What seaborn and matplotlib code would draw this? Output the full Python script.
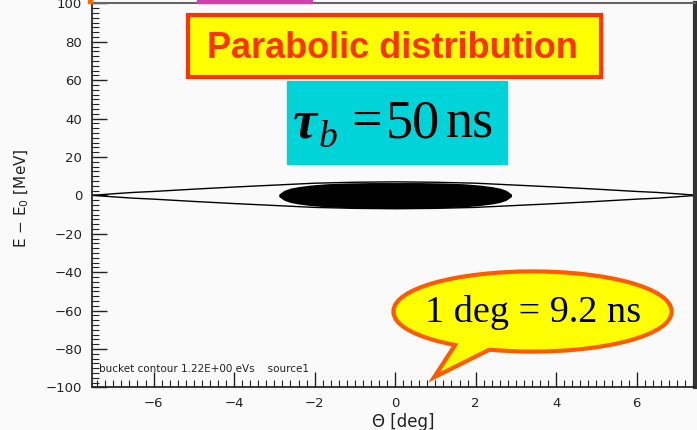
import matplotlib
matplotlib.use("Agg")
import matplotlib.pyplot as plt
import numpy as np
import pandas as pd
import seaborn as sns
from matplotlib.patches import Ellipse, Polygon, Rectangle
from matplotlib.ticker import MultipleLocator
from matplotlib.transforms import Affine2D

sns.set_theme(style="ticks")
plt.rcParams["font.family"] = ["DejaVu Sans"]

# separatrix (bucket contour), half height in MeV
theta_sep = [-7.5, -7.0, -6.5, -6.0, -5.0, -4.0, -3.0, -2.0, -1.0, 0.0,
             1.0, 2.0, 3.0, 4.0, 5.0, 6.0, 6.5, 7.0, 7.5]
de_sep = [0.0, 0.8, 1.5, 2.0, 3.2, 4.3, 5.3, 6.3, 6.8, 7.0,
          6.8, 6.3, 5.3, 4.3, 3.2, 2.0, 1.5, 0.8, 0.0]

# outline of the particle cloud (parabolic distribution)
theta_cloud = [-2.87, -2.75, -2.6, -2.4, -2.1, -1.7, -1.2, -0.6, 0.0,
               0.6, 1.2, 1.7, 2.1, 2.4, 2.6, 2.75, 2.87]
de_cloud = [0.4, 2.2, 3.3, 4.1, 4.9, 5.6, 6.0, 6.2, 6.2,
            6.2, 6.0, 5.6, 4.9, 4.1, 3.3, 2.2, 0.4]

W, H = 697, 430
bg = "#fafafa"
fig = plt.figure(figsize=(W / 100, H / 100), dpi=100, facecolor=bg)
ax = fig.add_axes([92 / W, (H - 387.3) / H, (695 - 92) / W, (387.3 - 3.3) / H])
ax.set_facecolor(bg)

n = len(theta_sep)
sep = pd.DataFrame({
    "theta": theta_sep + theta_sep,
    "dE": de_sep + [-v for v in de_sep],
    "half": ["upper"] * n + ["lower"] * n,
})
sns.lineplot(data=sep, x="theta", y="dE", units="half", estimator=None,
             color="black", linewidth=1, ax=ax)

hc = np.array(de_cloud)
ax.fill_between(theta_cloud, -hc, hc, color="black", linewidth=1.2, edgecolor="black")

ax.set_xlim(-7.53, 7.45)
ax.set_ylim(-100, 100)
ax.xaxis.set_major_locator(MultipleLocator(2))
ax.xaxis.set_minor_locator(MultipleLocator(0.2))
ax.yaxis.set_major_locator(MultipleLocator(20))
ax.yaxis.set_minor_locator(MultipleLocator(2.5))
ax.tick_params(which="both", direction="in", colors="#222222", labelsize=9.5,
               pad=7, top=False, right=False)
ax.tick_params(which="major", length=11, width=1)
ax.tick_params(which="minor", length=5, width=0.8)
ax.set_xlabel("")
ax.set_ylabel("")
ax.spines["left"].set_color("#222222")
ax.spines["bottom"].set_color("#222222")
ax.spines["top"].set_color("#666666")
ax.spines["top"].set_linewidth(1.5)
ax.spines["right"].set_color("#333333")
ax.spines["right"].set_linewidth(3)

ax.text(0.012, 0.04, "bucket contour 1.22E+00 eVs    source1", transform=ax.transAxes,
        fontsize=7.5, color="#222222", va="baseline")

fig.text(403 / W, 1 - 427 / H, "\u0398 [deg]", fontsize=12, color="#222222",
         ha="center", va="baseline")
fig.text(22 / W, 1 - 198 / H, "E \u2212 E$_0$ [MeV]", fontsize=11, color="#222222",
         rotation=90, ha="center", va="center")

# pixel coordinates with origin at top-left
px = Affine2D().scale(1, -1).translate(0, H)

fig.patches.append(Rectangle((197, 0), 115, 2.5, transform=px, color="#d23fae"))
fig.patches.append(Rectangle((88, 0), 4, 3, transform=px, color="#ff6a00"))

fig.patches.append(Rectangle((187.5, 14.5), 413, 62, transform=px,
                             facecolor="#ffff00", edgecolor="#ff3300", linewidth=3))
fig.text(392 / W, 1 - 58.3 / H, "Parabolic distribution", fontsize=26,
         fontweight="bold", family="Liberation Sans", color="#ff3300",
         ha="center", va="baseline")

fig.patches.append(Rectangle((287, 81), 220, 83, transform=px, color="#00d4d8"))
fig.text(293 / W, 1 - 137 / H, "\u03c4", fontsize=39, family="Liberation Serif",
         fontweight="bold", style="italic", color="black", va="baseline")
fig.text(319 / W, 1 - 147 / H, "b", fontsize=27, family="Liberation Serif",
         style="italic", color="black", va="baseline")
fig.text(351 / W, 1 - 137 / H, "=", fontsize=39, family="Liberation Serif",
         color="black", va="baseline")
fig.text(386 / W, 1 - 137 / H, "50", fontsize=39, family="Liberation Serif",
         color="black", va="baseline")
fig.text(446 / W, 1 - 137 / H, "ns", fontsize=39, family="Liberation Serif",
         color="black", va="baseline")

# speech bubble
orange = "#ff5a00"
tail = [(466, 332), (440, 372), (512, 336)]
fig.patches.append(Polygon(tail, closed=True, transform=px, facecolor="none",
                           edgecolor=orange, linewidth=6, zorder=1))
fig.patches.append(Ellipse((532.5, 311.5), 274, 76, transform=px, facecolor="none",
                           edgecolor=orange, linewidth=6, zorder=1))
fig.patches.append(Ellipse((532.5, 311.5), 274, 76, transform=px, facecolor="#ffff00",
                           edgecolor="none", zorder=1.1))
fig.patches.append(Polygon(tail, closed=True, transform=px, facecolor="#ffff00",
                           edgecolor="none", zorder=1.1))
fig.text(533 / W, 1 - 321.7 / H, "1 deg = 9.2 ns", fontsize=27.5,
         family="Liberation Serif", color="black", ha="center", va="baseline")

fig.savefig("out.png", dpi=100, facecolor=bg)
